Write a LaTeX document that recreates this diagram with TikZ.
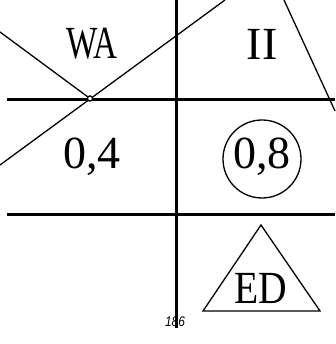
\documentclass[tikz,border=0pt]{standalone}
\usepackage{fontspec}
\setmainfont{Liberation Serif}
\setsansfont{Liberation Sans}
\begin{document}
\begin{tikzpicture}[x=1pt,y=-1pt,
  thickline/.style={line width=3pt},
  thinline/.style={line width=1.3pt},
  bigtext/.style={font=\fontsize{46}{46}\selectfont, inner sep=0pt}]
\useasboundingbox (0,0) rectangle (335,344);
% coordinates
\coordinate (vtop) at (176,0);
\coordinate (vbot) at (176,328);
\coordinate (h1l) at (7,100);
\coordinate (h1r) at (335,100);
\coordinate (h2l) at (7,214);
\coordinate (h2r) at (335,214);
\coordinate (aL) at (0,32);
\coordinate (P) at (90,98.5);
\coordinate (bL) at (0,165);
\coordinate (bT) at (225,0);
\coordinate (cT) at (284,0);
\coordinate (cB) at (335,111);
% grid
\draw[thickline] (vtop) -- (vbot);
\draw[thickline] (h1l) -- (h1r);
\draw[thickline] (h2l) -- (h2r);
% diagonals
\draw[thinline] (aL) -- (P);
\draw[thinline] (bL) -- (bT);
\draw[thinline] (cT) -- (cB);
\draw[thinline, fill=white] (P) circle (2.6);
% labels
\node[bigtext, xscale=0.72] (wa) at (92,44) {WA};
\node[bigtext] (ii) at (262,44) {II};
\node[bigtext] (n04) at (92,157) {0,4};
\node[bigtext] (n08) at (262,157) {0,8};
\draw[thinline] (262,159) circle (39);
\draw[thinline] (261,225) -- (320,311) -- (203,311) -- cycle;
\node[bigtext, xscale=0.86] (ed) at (261,288) {ED};
\node[font=\sffamily\itshape\fontsize{14}{14}\selectfont, inner sep=0pt, xscale=0.85] (pg) at (175,322) {186};
\end{tikzpicture}
\end{document}
